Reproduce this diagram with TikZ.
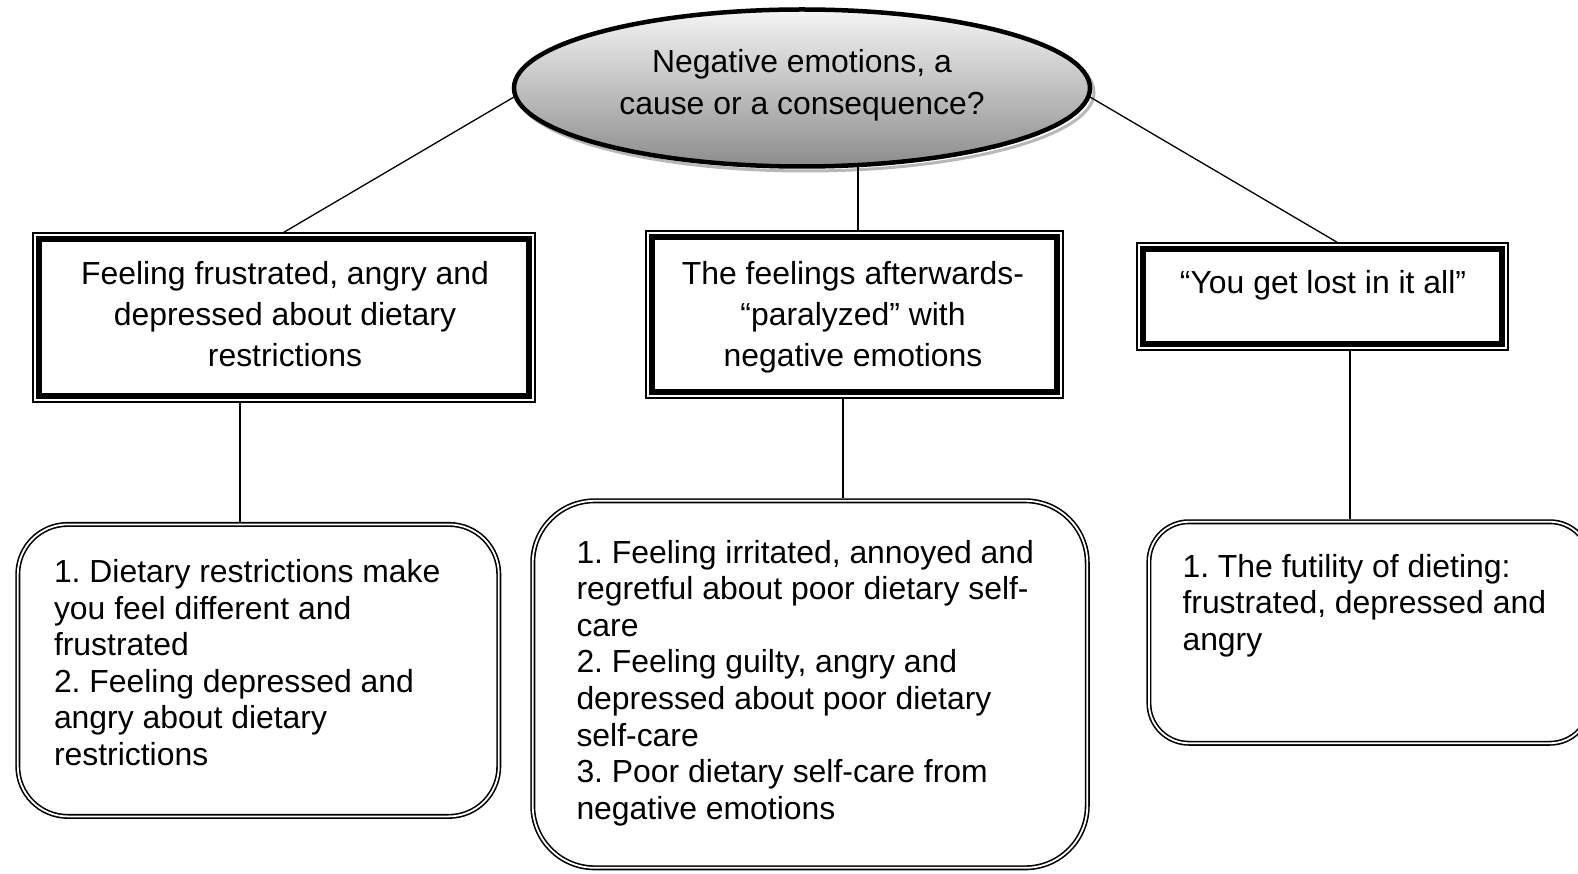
\documentclass[tikz,border=0pt]{standalone}
\usepackage{fontspec}
\setmainfont{Liberation Sans}
\usetikzlibrary{shapes.geometric}
\frenchspacing
\begin{document}
\begin{tikzpicture}[x=1pt,y=-1pt,
  every node/.style={inner sep=0pt, outer sep=0pt},
  headbox/.style={draw, rectangle, line width=1.6pt, outer sep=0.8pt},
  headframe/.style={line width=6.5pt},
  detailbox/.style={draw, rectangle, line width=1.6pt, double, double distance=1.8pt, outer sep=2.5pt},
  link/.style={line width=1.3pt},
  headtext/.style={font=\fontsize{31.9}{41.3}\selectfont, align=center, anchor=north},
  bodytext/.style={font=\fontsize{31.9}{36.6}\selectfont, align=left, anchor=north west},
]
\useasboundingbox (0,0) rectangle (1578,874);
\clip (0,0) rectangle (1578,874);

% soft outline below the title ellipse
\draw[draw=black!28, line width=3pt] (806,92.5) ellipse [x radius=288, y radius=78.5];

% title ellipse
\node[ellipse, draw, line width=4.5pt, minimum width=576pt, minimum height=157pt,
      top color=black!4, bottom color=black!45] (root) at (802,88) {};
\node[headtext, font=\fontsize{31.9}{42}\selectfont] (roottext) at (802,43.6)
  {\strut Negative emotions, a\\cause or a consequence?};

% theme boxes: thin outer rule with a heavy frame inside
\node[headbox, minimum width=502pt, minimum height=169pt] (h1) at (284,317.5) {};
\node[headbox, minimum width=417pt, minimum height=167pt] (h2) at (854.5,314.5) {};
\node[headbox, minimum width=371pt, minimum height=107pt] (h3) at (1322.5,296.5) {};
\foreach \b in {h1,h2,h3}
  \draw[headframe] ([shift={(7,7)}]\b.north west) rectangle ([shift={(-7,-7)}]\b.south east);

\node[headtext] (t1) at (285,255.1)
  {\strut Feeling frustrated, angry and\\depressed about dietary\\restrictions};
\node[headtext] (t2) at (853,255.1)
  {\strut The feelings afterwards-\\“paralyzed” with\\negative emotions};
\node[headtext] (t3) at (1323,265)
  {\strut “You get lost in it all”};

% sub-theme boxes
\node[detailbox, rounded corners=50pt, minimum width=481pt, minimum height=292pt] (d1) at (258.3,670.4) {};
\node[detailbox, rounded corners=62pt, minimum width=554.5pt, minimum height=367pt] (d2) at (810,684.3) {};
\node[detailbox, rounded corners=40pt, minimum width=441pt, minimum height=221.5pt] (d3) at (1369.4,632.5) {};

\node[bodytext] (s1) at (54,556.9)
  {\strut 1. Dietary restrictions make\\you feel different and\\frustrated\\2. Feeling depressed and\\angry about dietary\\restrictions};
\node[bodytext] (s2) at (576.5,537.4)
  {\strut 1. Feeling irritated, annoyed and\\regretful about poor dietary self-\\care\\2. Feeling guilty, angry and\\depressed about poor dietary\\self-care\\3. Poor dietary self-care from\\negative emotions};
\node[bodytext] (s3) at (1182.5,551.4)
  {\strut 1. The futility of dieting:\\frustrated, depressed and\\angry};

% connectors
\draw[link] ([yshift=-9pt]root.west) -- (h1.north);
\coordinate (m0) at ([xshift=3.5pt]h2.north);
\draw[link] (m0 |- root.south) -- (m0);
\draw[link] ([yshift=-9pt]root.east) -- ([xshift=14.5pt]h3.north);

\coordinate (a1) at ([xshift=-44pt]h1.south);
\coordinate (a2) at ([xshift=-11.5pt]h2.south);
\coordinate (a3) at ([xshift=27.5pt]h3.south);
\draw[link] (a1) -- (a1 |- d1.north);
\draw[link] (a2) -- (a2 |- d2.north);
\draw[link] (a3) -- (a3 |- d3.north);
\end{tikzpicture}
\end{document}
